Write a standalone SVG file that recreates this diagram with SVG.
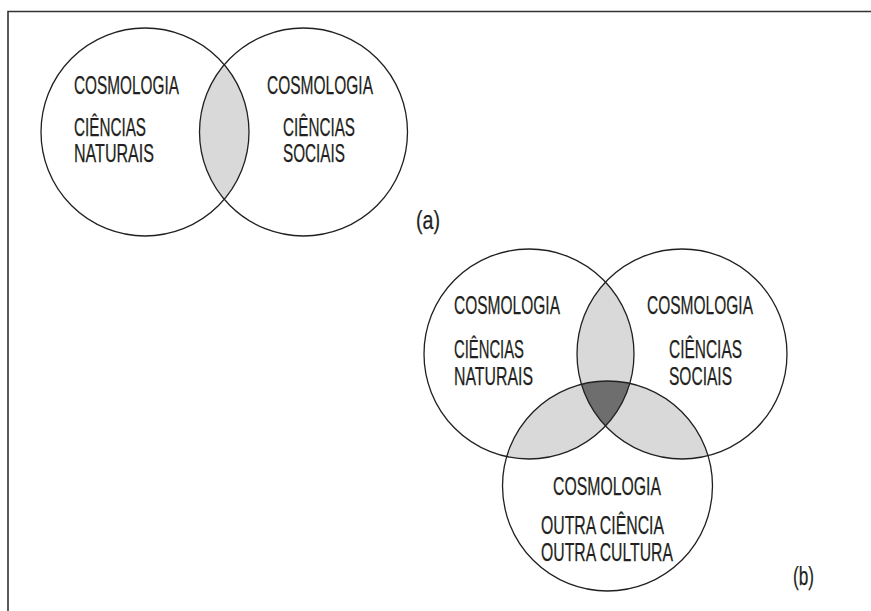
<svg xmlns="http://www.w3.org/2000/svg" width="871" height="611" viewBox="0 0 871 611">
<style>
.c{fill:none;stroke:#231f20;stroke-width:1.3}
.t{font-family:"Liberation Sans",Arial,sans-serif;font-size:25px;fill:#231f20;stroke:#231f20;stroke-width:0.25}
.l{fill:#d9d9d9}
.d{fill:#6e6e6e}
</style>
<defs>
<clipPath id="ca"><circle cx="145" cy="132" r="104"/></clipPath>
<clipPath id="cbA"><circle cx="529" cy="354" r="105"/></clipPath>
<clipPath id="cbB"><circle cx="682" cy="354" r="105"/></clipPath>
<clipPath id="cbAB" clip-path="url(#cbA)"><circle cx="682" cy="354" r="105"/></clipPath>
</defs>
<rect width="871" height="611" fill="#fff"/>
<path d="M8 611 V11.5 H871" fill="none" stroke="#333" stroke-width="1.6"/>
<g id="shading">
<circle class="l" cx="303.5" cy="132" r="104" clip-path="url(#ca)"/>
<circle class="l" cx="682" cy="354" r="105" clip-path="url(#cbA)"/>
<circle class="l" cx="607.5" cy="486" r="105" clip-path="url(#cbA)"/>
<circle class="l" cx="607.5" cy="486" r="105" clip-path="url(#cbB)"/>
<circle class="d" cx="607.5" cy="486" r="105" clip-path="url(#cbAB)"/>
</g>
<g id="a-natural">
<circle class="c" cx="145" cy="132" r="104"/>
<text class="t" x="74" y="94" textLength="105" lengthAdjust="spacingAndGlyphs">COSMOLOGIA</text>
<text class="t" x="74" y="136" textLength="72" lengthAdjust="spacingAndGlyphs">CIÊNCIAS</text>
<text class="t" x="74" y="162" textLength="80" lengthAdjust="spacingAndGlyphs">NATURAIS</text>
</g>
<g id="a-social">
<circle class="c" cx="303.5" cy="132" r="104"/>
<text class="t" x="267" y="94" textLength="106" lengthAdjust="spacingAndGlyphs">COSMOLOGIA</text>
<text class="t" x="283" y="136" textLength="72" lengthAdjust="spacingAndGlyphs">CIÊNCIAS</text>
<text class="t" x="283" y="162" textLength="62" lengthAdjust="spacingAndGlyphs">SOCIAIS</text>
</g>
<text class="t" x="416" y="229" textLength="24" lengthAdjust="spacingAndGlyphs">(a)</text>
<g id="b-natural">
<circle class="c" cx="529" cy="354" r="105"/>
<text class="t" x="454" y="314" textLength="106" lengthAdjust="spacingAndGlyphs">COSMOLOGIA</text>
<text class="t" x="454" y="358" textLength="70" lengthAdjust="spacingAndGlyphs">CIÊNCIAS</text>
<text class="t" x="454" y="385" textLength="79" lengthAdjust="spacingAndGlyphs">NATURAIS</text>
</g>
<g id="b-social">
<circle class="c" cx="682" cy="354" r="105"/>
<text class="t" x="647" y="314" textLength="106" lengthAdjust="spacingAndGlyphs">COSMOLOGIA</text>
<text class="t" x="669" y="358" textLength="73" lengthAdjust="spacingAndGlyphs">CIÊNCIAS</text>
<text class="t" x="669" y="385" textLength="63" lengthAdjust="spacingAndGlyphs">SOCIAIS</text>
</g>
<g id="b-other">
<circle class="c" cx="607.5" cy="486" r="105"/>
<text class="t" x="553" y="495" textLength="108" lengthAdjust="spacingAndGlyphs">COSMOLOGIA</text>
<text class="t" x="541" y="534" textLength="123" lengthAdjust="spacingAndGlyphs">OUTRA CIÊNCIA</text>
<text class="t" x="541" y="561" textLength="132" lengthAdjust="spacingAndGlyphs">OUTRA CULTURA</text>
</g>
<text class="t" x="793" y="585" textLength="21" lengthAdjust="spacingAndGlyphs">(b)</text>
</svg>
